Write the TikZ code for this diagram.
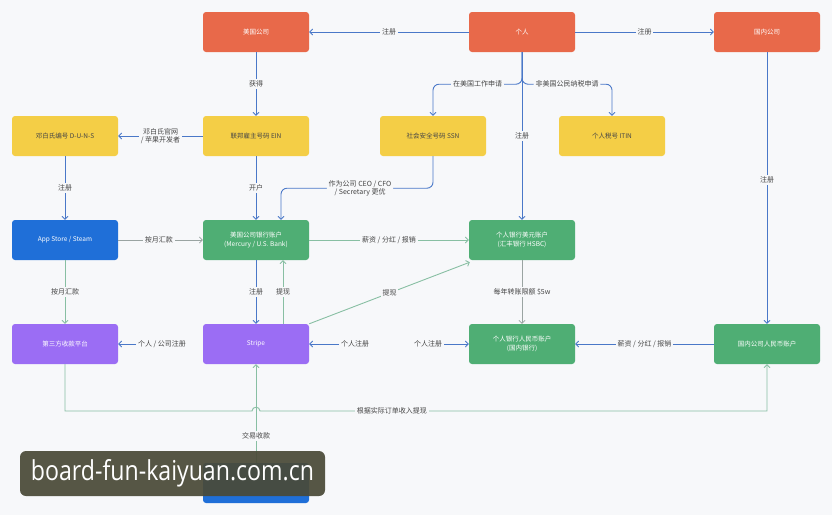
\documentclass[tikz,border=0pt]{standalone}
\usepackage{fontspec}
\setmainfont{Noto Sans CJK SC}
\newfontfamily\wmfont{Open Sans}
\usetikzlibrary{arrows.meta}
\definecolor{bg}{HTML}{F7F8FA}
\definecolor{cOr}{HTML}{E8694A}
\definecolor{cYe}{HTML}{F4CE46}
\definecolor{cBl}{HTML}{1F6FD8}
\definecolor{cGr}{HTML}{4FAE74}
\definecolor{cPu}{HTML}{9B6DF4}
\definecolor{lnB}{HTML}{4A78C8}
\definecolor{lnG}{HTML}{88BFA3}
\definecolor{lnY}{HTML}{9AA4A2}
\definecolor{labc}{HTML}{454545}
\definecolor{wm}{HTML}{4A4A38}
\tikzset{
  box/.style={rounded corners=3pt, minimum width=106pt, minimum height=40pt, inner sep=0pt,
    font=\fontsize{6.5}{8.5}\selectfont, text=white, align=center},
  orbox/.style={box, fill=cOr},
  yebox/.style={box, fill=cYe, text=labc},
  blbox/.style={box, fill=cBl},
  grbox/.style={box, fill=cGr},
  pubox/.style={box, fill=cPu},
  lab/.style={fill=bg, font=\fontsize{7}{8.5}\selectfont, text=labc, inner sep=1.8pt, align=center},
  tip/.style={-{Straight Barb[length=2.8pt,width=6pt]}},
  bl/.style={draw=lnB, line width=0.9pt, tip},
  gr/.style={draw=lnG, line width=0.9pt, tip},
  gy/.style={draw=lnY, line width=0.8pt, tip},
}
\begin{document}
\begin{tikzpicture}[x=1pt,y=-1pt]
\fill[bg] (0,0) rectangle (832,515);
\useasboundingbox (0,0) rectangle (832,515);

% row 1
\node[orbox] (us) at (256,32) {美国公司};
\node[orbox] (p)  at (522,32) {个人};
\node[orbox] (cn) at (767,32) {国内公司};
% row 2
\node[yebox] (duns) at (65,136) {邓白氏编号 D-U-N-S};
\node[yebox] (ein)  at (256,136) {联邦雇主号码 EIN};
\node[yebox] (ssn)  at (433,136) {社会安全号码 SSN};
\node[yebox] (itin) at (612,136) {个人税号 ITIN};
% row 3
\node[blbox] (app)  at (65,240) {App Store / Steam};
\node[grbox] (bank) at (256,240) {美国公司银行账户\\(Mercury / U.S. Bank)};
\node[grbox] (hsbc) at (522,240) {个人银行美元账户\\(汇丰银行 HSBC)};
% row 4
\node[pubox] (third)  at (65,344) {第三方收款平台};
\node[pubox] (stripe) at (256,344) {Stripe};
\node[grbox] (rmb)    at (522,344) {个人银行人民币账户\\(国内银行)};
\node[grbox] (cnrmb)  at (767,344) {国内公司人民币账户};
% row 5
\node[blbox] (bot) at (256,483) {};

% connectors
\draw[bl] (p.west) -- node[lab]{注册} (us.east);
\draw[bl] (p.east) -- node[lab]{注册} (cn.west);
\draw[bl] (us.south) -- node[lab]{获得} (ein.north);
\draw[bl] (ein.west) -- node[lab]{邓白氏官网\\/ 苹果开发者} (duns.east);
\draw[bl] (duns.south) -- node[lab]{注册} (app.north);
\draw[bl] (ein.south) -- node[lab]{开户} (bank.north);
\draw[bl, rounded corners=6pt] (ssn.south) -- ++(0,32) -| node[lab,pos=0.24]{作为公司 CEO / CFO\\/ Secretary 更优} ([xshift=25pt]bank.north);
\draw[bl] (p.south) -- node[lab]{注册} (hsbc.north);
\draw[bl, rounded corners=6pt] (p.south) -- ++(0,32) -| node[lab,pos=0.25]{在美国工作申请} (ssn.north);
\draw[bl, rounded corners=6pt] (p.south) -- ++(0,32) -| node[lab,pos=0.25]{非美国公民纳税申请} (itin.north);
\draw[bl] (cn.south) -- node[lab,pos=0.47]{注册} (cnrmb.north);

\draw[gy] (app.east) -- node[lab,pos=0.48]{按月汇款} (bank.west);
\draw[gr] (app.south) -- node[lab]{按月汇款} (third.north);
\draw[gr] (bank.east) -- node[lab]{薪资 / 分红 / 报销} (hsbc.west);
\draw[bl] (bank.south) -- node[lab]{注册} (stripe.north);
\draw[gr] ([xshift=27pt]stripe.north) -- node[lab]{提现} ([xshift=27pt]bank.south);
\draw[gr] (stripe.north east) -- node[lab]{提现} ([xshift=1pt,yshift=-2pt]hsbc.south west);
\draw[gy] (hsbc.south) -- node[lab]{每年转账限额 \$5w} (rmb.north);

\node[lab] (l1) at (162,344) {个人 / 公司注册};
\draw[bl] (l1.west) -- (third.east);
\node[lab] (l2) at (355,344) {个人注册};
\draw[bl] (l2.west) -- (stripe.east);
\node[lab] (l3) at (428,344) {个人注册};
\draw[bl] (l3.east) -- (rmb.west);
\draw[bl] (cnrmb.west) -- node[lab]{薪资 / 分红 / 报销} (rmb.east);

\coordinate (hopL) at (252,411);
\coordinate (hopR) at (260,411);
\draw[gr] (third.south) |- (hopL) .. controls ([yshift=5pt]hopL) and ([yshift=5pt]hopR) .. (hopR)
  -- node[lab,pos=0.26]{根据实际订单收入提现} (hopR -| cnrmb.south) -- (cnrmb.south);
\draw[gr] (bot.north) -- node[lab,pos=0.27]{交易收款} (stripe.south);

% watermark
\node[fill=wm, fill opacity=0.93, text opacity=1, rounded corners=6pt, minimum width=305pt, minimum height=45pt, inner sep=0pt] (wmk) at (172.5,473.5)
  {\textcolor{white}{\resizebox{283pt}{21pt}{\wmfont board-fun-kaiyuan.com.cn}}};
\end{tikzpicture}
\end{document}
